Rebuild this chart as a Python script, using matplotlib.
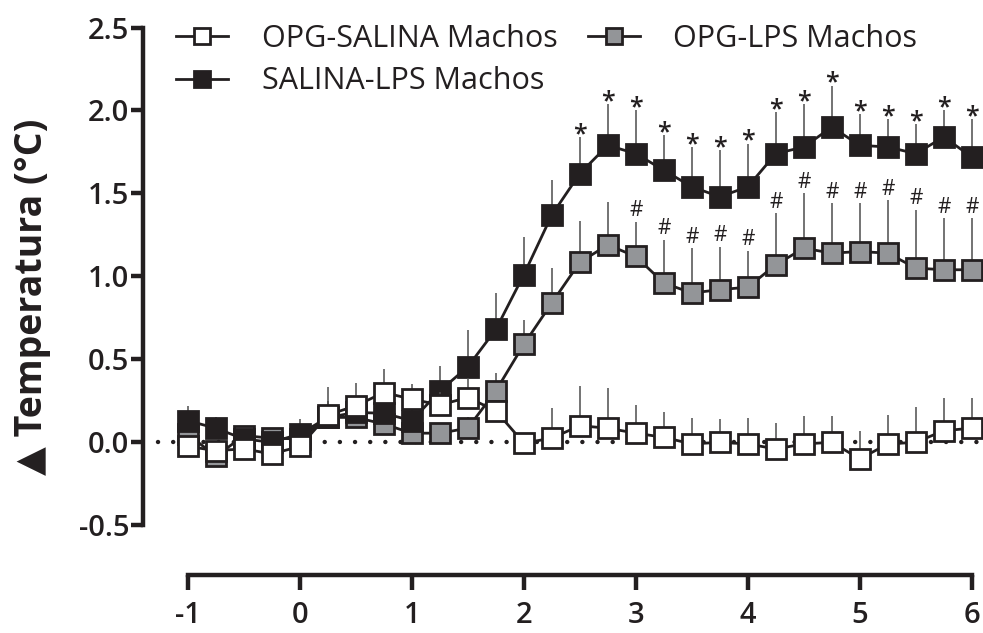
import numpy as np
import matplotlib
matplotlib.use("Agg")
import matplotlib.pyplot as plt
from matplotlib.lines import Line2D

plt.rcParams['font.family'] = ['Open Sans', 'DejaVu Sans']
plt.rcParams['axes.unicode_minus'] = False

# tiempo (h)
tiempo = [-1.0, -0.75, -0.5, -0.25, 0.0, 0.25, 0.5, 0.75, 1.0, 1.25, 1.5, 1.75,
          2.0, 2.25, 2.5, 2.75, 3.0, 3.25, 3.5, 3.75, 4.0, 4.25, 4.5, 4.75,
          5.0, 5.25, 5.5, 5.75, 6.0]

opg_salina = [-0.025, -0.05, -0.04, -0.07, -0.025, 0.165, 0.22, 0.30, 0.26, 0.225,
              0.27, 0.19, -0.005, 0.025, 0.10, 0.085, 0.055, 0.03, -0.01, 0.0,
              -0.01, -0.04, -0.01, 0.0, -0.10, -0.01, 0.0, 0.07, 0.085]
opg_salina_err = [0.05, 0.04, 0.05, 0.04, 0.06, 0.17, 0.14, 0.14, 0.09, 0.08,
                  0.12, 0.06, 0.05, 0.18, 0.24, 0.24, 0.17, 0.15, 0.155, 0.14,
                  0.155, 0.155, 0.17, 0.16, 0.167, 0.175, 0.21, 0.20, 0.18]

salina_lps = [0.13, 0.085, 0.02, 0.0, 0.05, 0.15, 0.18, 0.175, 0.13, 0.31,
              0.455, 0.68, 1.01, 1.37, 1.62, 1.79, 1.74, 1.64, 1.54, 1.48,
              1.54, 1.74, 1.78, 1.90, 1.79, 1.78, 1.74, 1.84, 1.72]
salina_lps_err = [0.09, 0.07, 0.06, 0.06, 0.09, 0.10, 0.10, 0.10, 0.10, 0.15,
                  0.22, 0.22, 0.23, 0.21, 0.22, 0.25, 0.26, 0.21, 0.24, 0.28,
                  0.26, 0.25, 0.26, 0.25, 0.19, 0.17, 0.18, 0.16, 0.23]

opg_lps = [0.05, -0.085, 0.04, 0.025, 0.02, 0.15, 0.15, 0.11, 0.055, 0.055,
           0.085, 0.31, 0.59, 0.84, 1.085, 1.19, 1.12, 0.96, 0.90, 0.92,
           0.935, 1.07, 1.17, 1.14, 1.15, 1.14, 1.05, 1.04, 1.04]
opg_lps_err = [0.05, 0.05, 0.05, 0.05, 0.05, 0.06, 0.06, 0.06, 0.06, 0.06,
               0.065, 0.11, 0.15, 0.21, 0.25, 0.26, 0.21, 0.26, 0.27, 0.26,
               0.22, 0.31, 0.33, 0.30, 0.29, 0.32, 0.35, 0.31, 0.31]

# indices with significance marks
idx_star = list(range(14, 29))   # SALINA-LPS vs OPG-SALINA
idx_hash = list(range(16, 29))   # OPG-LPS vs OPG-SALINA

ink = '#231f20'
gris = '#939598'

fig = plt.figure(figsize=(9.83, 6.33), dpi=100)
ax = fig.add_axes([0.1455, 0.0916, 0.8545, 0.878])

ax.plot([-1.27, 6.05], [0, 0], color=ink, lw=3.2, linestyle=(0, (0.01, 3.4)),
        dash_capstyle='round', zorder=1, clip_on=False)

series = [
    (opg_lps, opg_lps_err, gris),
    (salina_lps, salina_lps_err, ink),
    (opg_salina, opg_salina_err, 'white'),
]
for k, (vals, err, fc) in enumerate(series):
    vals = np.array(vals)
    err = np.array(err)
    ax.errorbar(tiempo, vals, yerr=[np.zeros_like(err), err], fmt='none',
                ecolor='#4d4d4d', elinewidth=1.1, capsize=0, zorder=2 + 2 * k,
                clip_on=False)
    ax.plot(tiempo, vals, '-s', color=ink, lw=2.0, ms=14.5, mfc=fc, mec=ink,
            mew=2.0, zorder=3 + 2 * k, clip_on=False)

for i in idx_star:
    ax.annotate('*', (tiempo[i], salina_lps[i] + salina_lps_err[i]),
                xytext=(0, -3), textcoords='offset points', ha='center',
                va='baseline', fontsize=18, fontweight='semibold', color=ink)
for i in idx_hash:
    ax.annotate('#', (tiempo[i], opg_lps[i] + opg_lps_err[i]),
                xytext=(0, 4), textcoords='offset points', ha='center',
                va='baseline', fontsize=15, color=ink)

ax.set_xlim(-1.40, 6.10)
ax.set_ylim(-0.80, 2.55)
ax.spines['top'].set_visible(False)
ax.spines['right'].set_visible(False)
ax.spines['left'].set_bounds(-0.5, 2.5)
ax.spines['bottom'].set_bounds(-1, 6)
for s in ('left', 'bottom'):
    ax.spines[s].set_linewidth(3.2)
    ax.spines[s].set_color(ink)
    ax.spines[s].set_capstyle('projecting')

ax.set_xticks(range(-1, 7))
ax.set_xticklabels([str(v) for v in range(-1, 7)])
ax.set_yticks([-0.5, 0.0, 0.5, 1.0, 1.5, 2.0, 2.5])
ax.set_yticklabels(['-0.5', '0.0', '0.5', '1.0', '1.5', '2.0', '2.5'])
ax.tick_params(axis='y', length=9, width=3.2, color=ink, pad=1,
               labelsize=21, labelcolor=ink)
ax.tick_params(axis='x', length=11, width=3.2, color=ink, pad=8,
               labelsize=21, labelcolor=ink)
for lab in ax.get_xticklabels() + ax.get_yticklabels():
    lab.set_fontweight('semibold')

ax.set_ylabel('▲ Temperatura (°C)', fontsize=27, fontweight='bold', color=ink,
              labelpad=20)

handles = [
    Line2D([], [], color=ink, lw=2.0, marker='s', ms=12, mfc='white', mec=ink, mew=2.0),
    Line2D([], [], color=ink, lw=2.0, marker='s', ms=12, mfc=ink, mec=ink, mew=2.0),
    Line2D([], [], color=ink, lw=2.0, marker='s', ms=12, mfc=gris, mec=ink, mew=2.0),
]
labels = ['OPG-SALINA Machos', 'SALINA-LPS Machos', 'OPG-LPS Machos']
leg = fig.legend(handles, labels, ncol=2, loc='upper left',
                 bbox_to_anchor=(0.179, 0.962), frameon=False, fontsize=22,
                 handlelength=1.7, handletextpad=1.1, columnspacing=1.0,
                 labelspacing=0.4, borderpad=0, borderaxespad=0)
for t in leg.get_texts():
    t.set_color(ink)

fig.savefig('out.png', dpi=100)
